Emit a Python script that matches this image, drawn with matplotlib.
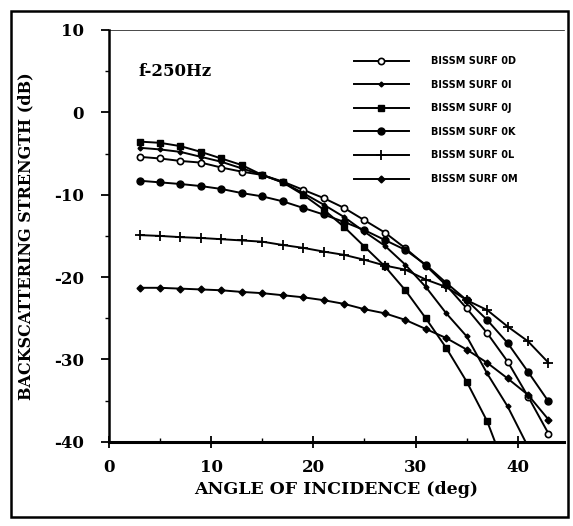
import numpy as np
import matplotlib
matplotlib.use("Agg")
import matplotlib.pyplot as plt
from matplotlib.patches import Rectangle

angle = [3, 5, 7, 9, 11, 13, 15, 17, 19, 21, 23, 25, 27, 29, 31, 33, 35, 37, 39, 41, 43]

surf_0D = [-5.4, -5.6, -5.9, -6.1, -6.7, -7.2, -7.6, -8.4, -9.4, -10.4, -11.6, -13.1, -14.6,
           -16.5, -18.6, -21.0, -23.8, -26.8, -30.25, -34.5, -39.0]
surf_0I = [-4.3, -4.5, -4.8, -5.4, -6.0, -6.8, -7.6, -8.5, -9.8, -11.2, -12.7, -14.5, -16.2,
           -18.5, -21.2, -24.4, -27.2, -31.7, -35.7, -40.6, np.nan]
surf_0J = [-3.55, -3.7, -4.1, -4.8, -5.6, -6.4, -7.6, -8.5, -10.0, -11.8, -13.9, -16.3, -18.7,
           -21.6, -25.0, -28.6, -32.7, -37.5, -44.0, np.nan, np.nan]
surf_0K = [-8.3, -8.5, -8.7, -8.95, -9.3, -9.8, -10.2, -10.8, -11.6, -12.4, -13.3, -14.3, -15.5,
           -16.7, -18.5, -20.7, -22.8, -25.2, -28.0, -31.5, -35.1]
surf_0L = [-14.9, -15.0, -15.15, -15.25, -15.4, -15.55, -15.7, -16.1, -16.45, -16.9, -17.3, -17.9,
           -18.6, -19.1, -20.3, -21.2, -22.8, -24.0, -26.0, -27.8, -30.4]
surf_0M = [-21.3, -21.3, -21.4, -21.5, -21.6, -21.8, -21.95, -22.2, -22.45, -22.8, -23.25, -23.9,
           -24.4, -25.2, -26.3, -27.4, -28.8, -30.4, -32.3, -34.3, -37.3]

labels = ["BISSM SURF 0D", "BISSM SURF 0I", "BISSM SURF 0J",
          "BISSM SURF 0K", "BISSM SURF 0L", "BISSM SURF 0M"]
x_ticks = [0, 10, 20, 30, 40]
y_ticks = [-40, -30, -20, -10, 0, 10]

fig = plt.figure(figsize=(5.73, 5.26), dpi=100)
ax = fig.add_axes([0.190, 0.160, 0.794, 0.783])

styles = [
    dict(marker='o', ms=4.5, mfc='white', mec='black', mew=1.2),
    dict(marker='D', ms=2.5, mfc='black', mec='black'),
    dict(marker='s', ms=4.5, mfc='black', mec='black'),
    dict(marker='o', ms=5.0, mfc='black', mec='black'),
    dict(marker='+', ms=6.5, mec='black', mew=1.3),
    dict(marker='D', ms=3.5, mfc='black', mec='black'),
]
series = [surf_0D, surf_0I, surf_0J, surf_0K, surf_0L, surf_0M]

for vals, st, lab in zip(series, styles, labels):
    ax.plot(angle, vals, color='black', lw=1.4, label=lab, **st)

ax.set_xlim(0, 44.5)
ax.set_ylim(-40, 10)
ax.set_xticks(x_ticks)
ax.set_yticks(y_ticks)
ax.set_xticks(np.arange(5, 45, 10), minor=True)
ax.set_yticks(np.arange(-35, 10, 10), minor=True)

tick_font = dict(family='DejaVu Serif', weight='bold', size=12)
ax.set_xticklabels([str(v) for v in x_ticks], **tick_font)
ax.set_yticklabels([str(v) for v in y_ticks], **tick_font)
ax.tick_params(axis='y', which='major', direction='out', length=6, width=1.3, pad=12)
ax.tick_params(axis='y', which='minor', direction='out', length=3, width=1.0)
ax.tick_params(axis='x', which='major', direction='inout', length=8, width=1.3, pad=8)
ax.tick_params(axis='x', which='minor', direction='in', length=3, width=1.0)

ax.spines['right'].set_visible(False)
ax.spines['top'].set_linewidth(0.5)
ax.spines['left'].set_linewidth(1.8)
ax.spines['bottom'].set_linewidth(2.2)

ax.set_xlabel("ANGLE OF INCIDENCE (deg)", family='DejaVu Serif', weight='bold',
              size=12.5, labelpad=4)
ax.set_ylabel("BACKSCATTERING STRENGTH (dB)", family='DejaVu Serif', weight='bold',
              size=11.5, labelpad=14)

ax.text(0.065, 0.90, "f-250Hz", transform=ax.transAxes, family='DejaVu Serif',
        weight='bold', size=12, ha='left', va='center')

leg = ax.legend(loc='upper left', bbox_to_anchor=(0.52, 0.958), frameon=False,
                handlelength=5.6, handletextpad=2.3, labelspacing=1.4,
                prop=dict(family='DejaVu Sans', weight='bold', size=7.0))

fig.patches.append(Rectangle((0.02, 0.018), 0.972, 0.962, transform=fig.transFigure,
                             fill=False, edgecolor='black', lw=1.8))

fig.savefig("out.png", dpi=100)
